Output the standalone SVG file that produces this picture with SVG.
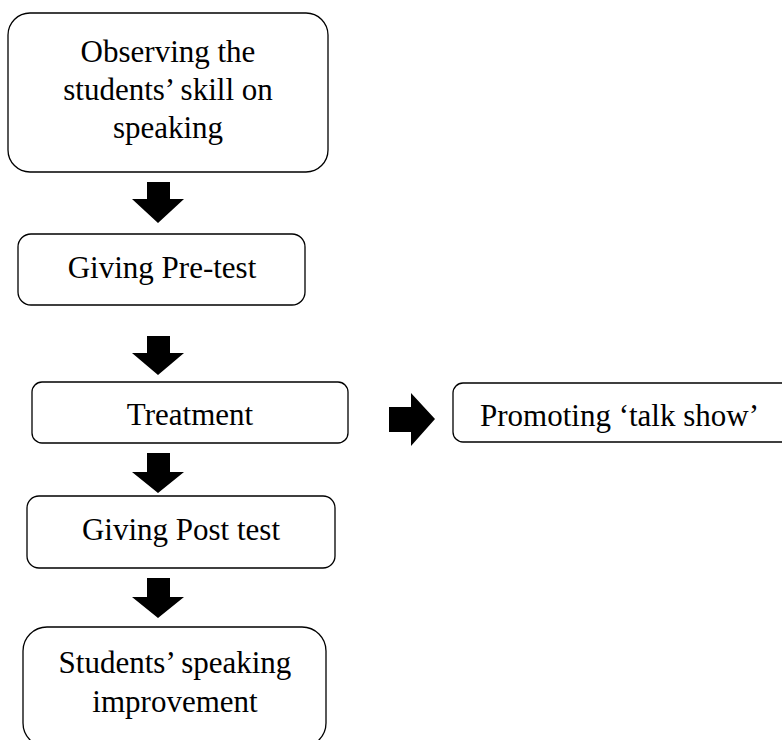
<svg xmlns="http://www.w3.org/2000/svg" width="782" height="740" viewBox="0 0 782 740">
<style>
.box{fill:#fff;stroke:#000;stroke-width:1.3}
.t{font-family:"Liberation Serif","Times New Roman",serif;font-size:31px;fill:#000;text-anchor:middle}
.arr{fill:#000;stroke:none}
</style>
<rect width="782" height="740" fill="#fff"/>
<g id="n1"><rect class="box" x="8" y="13" width="320" height="159" rx="22"/>
<text class="t" x="168" y="62">Observing the</text>
<text class="t" x="168" y="100">students’ skill on</text>
<text class="t" x="168" y="138">speaking</text></g>
<g id="n2"><rect class="box" x="18" y="234" width="287" height="71" rx="13"/>
<text class="t" x="162" y="278">Giving Pre-test</text></g>
<g id="n3"><rect class="box" x="32" y="382" width="316" height="61" rx="10"/>
<text class="t" x="190" y="425">Treatment</text></g>
<g id="n4"><rect class="box" x="453" y="383" width="345" height="59" rx="10"/>
<text class="t" x="480" y="426" style="text-anchor:start">Promoting ‘talk show’</text></g>
<g id="n5"><rect class="box" x="27" y="496" width="308" height="72" rx="12"/>
<text class="t" x="181" y="540">Giving Post test</text></g>
<g id="n6"><rect class="box" x="23" y="627" width="303" height="120" rx="24"/>
<text class="t" x="175" y="673">Students’ speaking</text>
<text class="t" x="175" y="712">improvement</text></g>
<g id="connectors">
<path class="arr" d="M147 182H170V199H184L158 223L132 199H147Z"/>
<path class="arr" d="M147 336H170V353H184L158 375L132 353H147Z"/>
<path class="arr" d="M147 453H170V472H184L158 493L132 472H147Z"/>
<path class="arr" d="M147 578H170V597H184L158 618L132 597H147Z"/>
<path class="arr" d="M389 407H411V393L435 419L411 446V432H389Z"/>
</g>
</svg>
